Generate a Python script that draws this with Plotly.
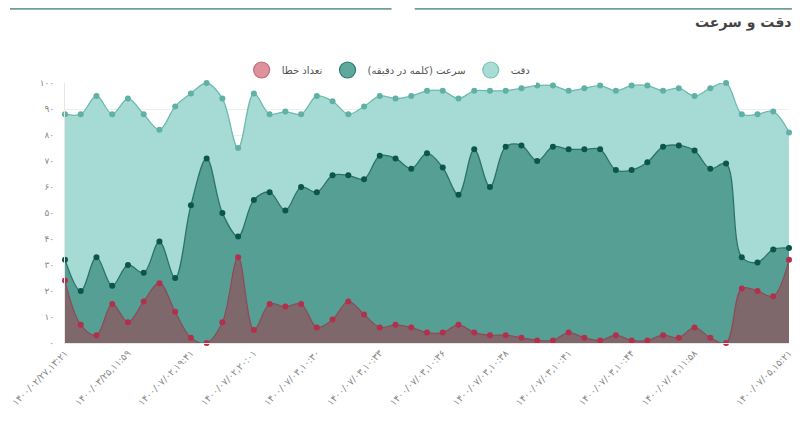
import plotly.graph_objects as go

# ---- data ----
x_idx = list(range(47))
accuracy = [88, 88, 95, 88, 94, 88, 82, 91, 96, 100, 94, 75, 96, 88, 89, 88, 95, 93, 88, 91, 95, 94, 95, 97,
            97, 94, 97, 97, 97, 98, 99, 99, 97, 98, 99, 97, 99, 99, 97, 98, 95, 98, 100, 88, 88, 89, 81]
speed = [32, 20, 33, 22, 30, 27, 39, 25, 53, 71, 50, 41, 55, 58, 51, 60, 58, 64.5, 64.5, 63, 72, 71, 67, 73,
         67.5, 57, 74.5, 60, 75.5, 76, 70, 75.5, 74.5, 74.5, 74.5, 66.5, 66.5, 69.5, 75.5, 76, 74, 67, 69, 33, 31, 36, 36.5]
errors = [24, 7, 3, 15, 8, 16, 23, 12, 2, 0, 8, 33, 5, 15, 14, 15, 6, 9, 16, 11, 6, 7, 6, 4,
          4, 7, 4, 3, 3, 2, 1, 1, 4, 2, 1, 3, 1, 1, 3, 2, 6, 2, 0, 21, 20, 18, 32]

x_tickvals = [0, 4, 8, 12, 16, 20, 24, 28, 32, 36, 40, 46]
x_ticktext = ["۱۴۰۰/۰۲/۲۷,۱۳:۲۱", "۱۴۰۰/۰۳/۲۵,۱۱:۵۹", "۱۴۰۰/۰۷/۰۲,۱۹:۴۱", "۱۴۰۰/۰۷/۰۲,۲۰:۰۱",
              "۱۴۰۰/۰۷/۰۳,۱۰:۳۰", "۱۴۰۰/۰۷/۰۳,۱۰:۳۳", "۱۴۰۰/۰۷/۰۳,۱۰:۳۶", "۱۴۰۰/۰۷/۰۳,۱۰:۳۸",
              "۱۴۰۰/۰۷/۰۳,۱۰:۴۱", "۱۴۰۰/۰۷/۰۳,۱۰:۴۴", "۱۴۰۰/۰۷/۰۳,۱۱:۵۸", "۱۴۰۰/۰۷/۰۵,۱۵:۲۱"]
y_tickvals = [0, 10, 20, 30, 40, 50, 60, 70, 80, 90, 100]
y_ticktext = ["۰", "۱۰", "۲۰", "۳۰", "۴۰", "۵۰", "۶۰", "۷۰", "۸۰", "۹۰", "۱۰۰"]

names = {"acc": "دقت", "speed": "سرعت (کلمه در دقیقه)", "err": "تعداد خطا"}
title_text = "دقت و سرعت"

FONT = "DejaVu Sans"

fig = go.Figure()

def area(y, fill, line, marker):
    fig.add_trace(go.Scatter(
        x=x_idx, y=y, mode="lines+markers", fill="tozeroy", fillcolor=fill,
        line=dict(color=line, width=1.3, shape="spline", smoothing=1.0),
        marker=dict(color=marker, size=6),
        showlegend=False, cliponaxis=False, hoverinfo="skip"))

area(accuracy, "#a6dad4", "#6dbbb0", "#5fb0a5")
area(speed, "#559f95", "#2c7468", "#0c5549")
area(errors, "#7f686b", "#8c4d58", "#b3304c")

# legend entries (circles)
for nm, fc, lc in [(names["acc"], "#a8dcd5", "#7fc2b8"),
                   (names["speed"], "#5fa89d", "#2f7a6e"),
                   (names["err"], "#df929c", "#c06b79")]:
    fig.add_trace(go.Scatter(x=[None], y=[None], mode="markers", name=nm,
                             marker=dict(size=16, color=fc, line=dict(color=lc, width=1.2))))

# page has an 8px body margin: figure is offset by (8, 8)
fig.update_layout(
    width=792, height=418,
    margin=dict(l=57, r=11, t=75, b=83),
    paper_bgcolor="white", plot_bgcolor="white",
    font=dict(family=FONT, color="#666"),
    showlegend=True,
    legend=dict(orientation="h", x=0.447, xanchor="center", y=1.05, yanchor="middle",
                traceorder="reversed", font=dict(size=10, color="#555"),
                itemclick=False, itemdoubleclick=False),
    xaxis=dict(range=[0, 46], tickvals=x_tickvals, ticktext=x_ticktext, tickangle=-45,
               tickfont=dict(size=9.5, color="#888"), showgrid=False, zeroline=False,
               showline=True, linecolor="#e6e6e6", ticks="", automargin=False,
               ticklabeloverflow="allow"),
    yaxis=dict(range=[0, 100], tickvals=y_tickvals, ticktext=y_ticktext,
               tickfont=dict(size=9, color="#888"), showgrid=True, gridcolor="#eeeeee",
               zeroline=False, showline=True, linecolor="#e6e6e6", ticks="",
               ticklabelstandoff=8, automargin=False),
    annotations=[dict(text="<b>" + title_text + "</b>", xref="paper", yref="paper",
                      x=1.006, y=1.231, xanchor="right", yanchor="middle", showarrow=False,
                      font=dict(size=14, color="#444", family=FONT))],
    shapes=[dict(type="line", xref="paper", yref="paper", x0=-0.076, x1=0.451, y0=1.286, y1=1.286,
                 line=dict(color="#6a9e9b", width=2)),
            dict(type="line", xref="paper", yref="paper", x0=0.483, x1=1.004, y0=1.286, y1=1.286,
                 line=dict(color="#6a9e9b", width=2))],
)

fig.write_html("out.html")
